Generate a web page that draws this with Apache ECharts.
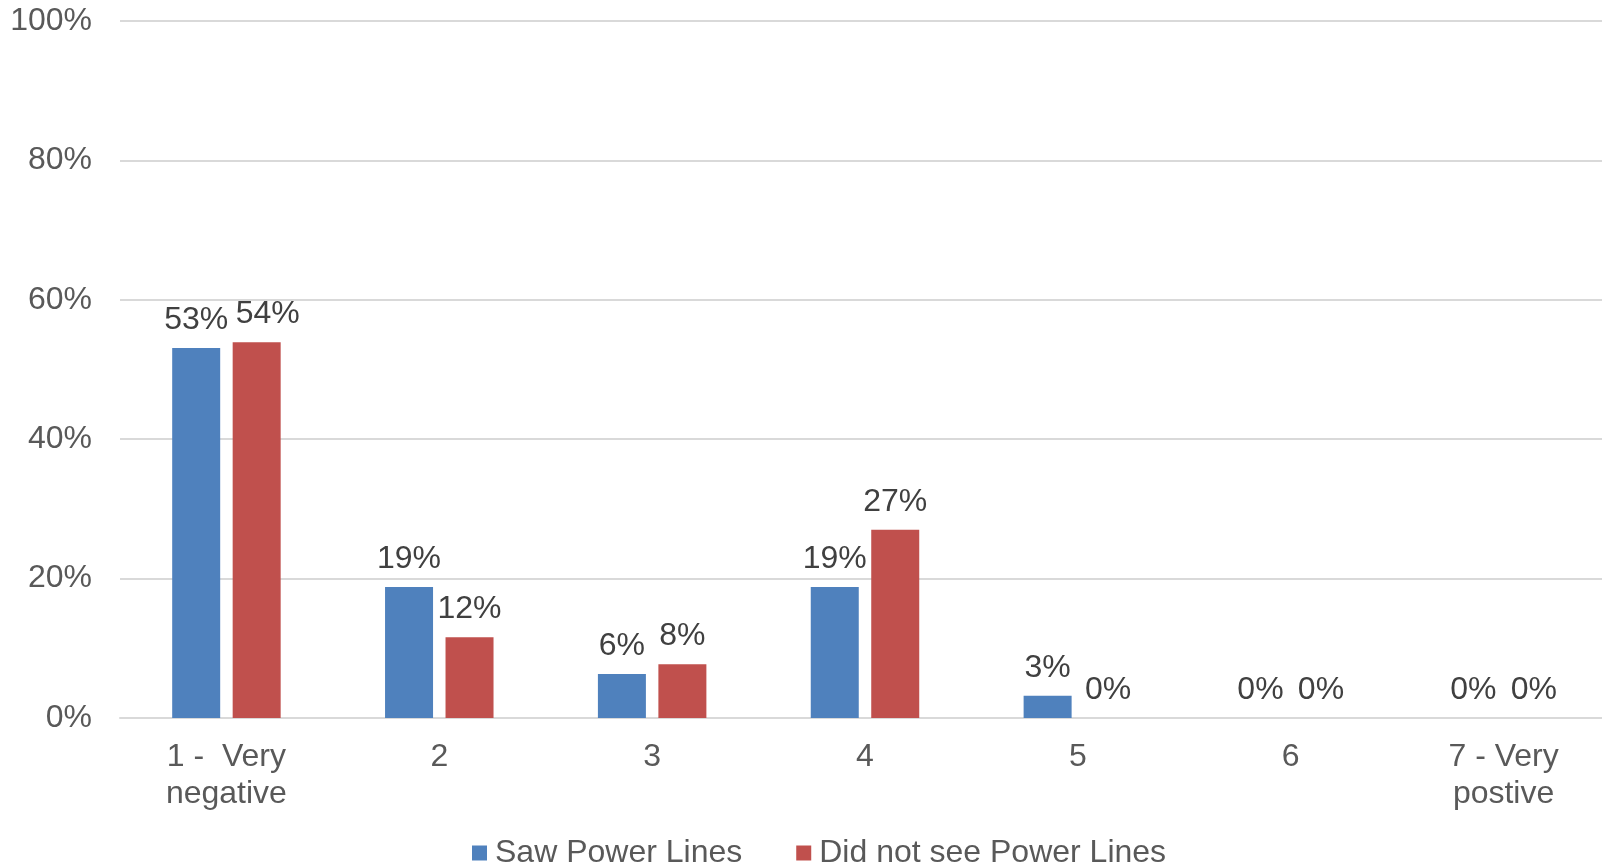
<!DOCTYPE html>
<html>
<head>
<meta charset="utf-8">
<script src="https://cdn.jsdelivr.net/npm/echarts@6/dist/echarts.min.js"></script>
<style>
  html, body { margin: 0; padding: 0; background: #fff; overflow: hidden; }
  #chart { width: 1620px; height: 863px; }
</style>
</head>
<body>
<div id="chart"></div>
<script>
const categories = ['1 -  Very\nnegative', '2', '3', '4', '5', '6', '7 - Very\npostive'];
const seriesNames = ['Saw Power Lines', 'Did not see Power Lines'];
const sawValues = [53.1, 18.8, 6.3, 18.8, 3.2, 0, 0];
const notSawValues = [53.9, 11.6, 7.7, 27.0, 0, 0, 0];
const yTicks = [0, 20, 40, 60, 80, 100];

const FONT = '"Liberation Sans", Arial, sans-serif';
const chart = echarts.init(document.getElementById('chart'));

const labelCfg = {
  show: true,
  position: 'top',
  distance: 12,
  color: '#404040',
  fontSize: 32,
  fontFamily: FONT,
  formatter: p => Math.round(p.value) + '%'
};

// first red label nudged right to avoid overlapping its neighbour (as in the reference)
const notSawData = notSawValues.map((v, i) => i === 0 ? { value: v, label: { offset: [11, 0] } } : v);

chart.setOption({
  animation: false,
  backgroundColor: '#ffffff',
  grid: { left: 120, top: 21, width: 1490, bottom: 145, containLabel: false },
  legend: {
    data: seriesNames,
    top: 832,
    left: 467,
    icon: 'rect',
    itemWidth: 15,
    itemHeight: 15,
    itemGap: 54,
    textStyle: { color: '#595959', fontSize: 32, fontFamily: FONT, padding: [0, 0, 0, 3] }
  },
  xAxis: {
    type: 'category',
    data: categories,
    axisLine: { show: true, lineStyle: { color: '#d9d9d9', width: 2 } },
    axisTick: { show: false },
    axisLabel: { color: '#595959', fontSize: 32, fontFamily: FONT, lineHeight: 37, margin: 21, interval: 0 }
  },
  yAxis: {
    type: 'value',
    min: yTicks[0],
    max: yTicks[yTicks.length - 1],
    interval: 20,
    axisLine: { show: false },
    axisTick: { show: false },
    splitLine: { lineStyle: { color: '#d9d9d9', width: 2 } },
    axisLabel: { color: '#595959', fontSize: 32, fontFamily: FONT, margin: 28, formatter: v => v + '%' }
  },
  series: [
    {
      name: seriesNames[0],
      type: 'bar',
      data: sawValues,
      barWidth: 48,
      barGap: '26%',
      itemStyle: { color: '#4f81bd' },
      label: labelCfg
    },
    {
      name: seriesNames[1],
      type: 'bar',
      data: notSawData,
      barWidth: 48,
      itemStyle: { color: '#c0504d' },
      label: labelCfg
    }
  ]
});
</script>
</body>
</html>
